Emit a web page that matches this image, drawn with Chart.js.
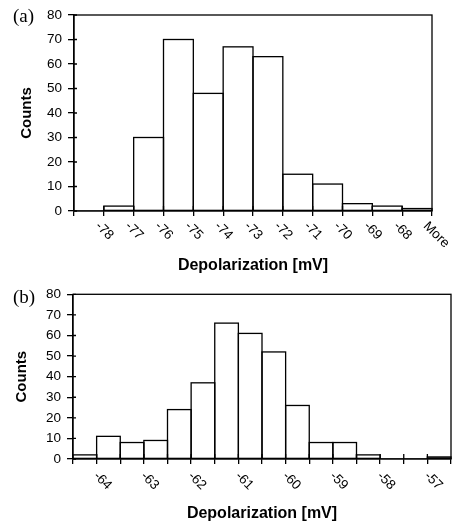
<!DOCTYPE html>
<html>
<head>
<meta charset="utf-8">
<script src="https://cdn.jsdelivr.net/npm/chart.js@4.4.1/dist/chart.umd.min.js"></script>
<style>
  body { margin: 0; background: #fff; }
  .panel { position: absolute; left: 0; width: 457px; }
  #panelA { top: 0; height: 278px; }
  #panelB { top: 278px; height: 249px; }
</style>
</head>
<body>
<div class="panel" id="panelA"><canvas id="chartA"></canvas></div>
<div class="panel" id="panelB"><canvas id="chartB"></canvas></div>
<script>
// Panel (a): bin upper edges and counts
const binsA = ['-78', '-77', '-76', '-75', '-74', '-73', '-72', '-71', '-70', '-69', '-68', 'More'];
const countsA = [0, 2, 30, 70, 48, 67, 63, 15, 11, 3, 2, 1];

// Panel (b): 0.5 mV bins, only the whole-mV edges carry a label
const binsB = ['-64', '-63.5', '-63', '-62.5', '-62', '-61.5', '-61', '-60.5',
               '-60', '-59.5', '-59', '-58.5', '-58', '-57.5', '-57', '-56.5'];
const countsB = [2, 11, 8, 9, 24, 37, 66, 61, 52, 26, 8, 8, 2, 0, 0, 1];
const shownB = ['-64', '-63', '-62', '-61', '-60', '-59', '-58', '-57'];

const yTicks = [0, 10, 20, 30, 40, 50, 60, 70, 80];

const SANS = '"Liberation Sans", Arial, sans-serif';
const LINE = 1.3;

document.addEventListener('DOMContentLoaded', () => {
    makeHistogram('chartA', binsA, countsA, {
        tag: '(a)', tagY: 22, labelDx: -6.5, labelDy: 13, shown: binsA,
        padRight: 25, padTop: 15, yWidth: 74, xHeight: 67, countsPad: 17.5, titlePad: 3
    });
    makeHistogram('chartB', binsB, countsB, {
        tag: '(b)', tagY: 25, labelDx: -1, labelDy: 15, shown: shownB,
        padRight: 6, padTop: 16.3, yWidth: 73, xHeight: 68, countsPad: 12.7, titlePad: 4
    });
});

// outlines, frame, cross ticks, rotated bin labels and panel tag
const framePlugin = {
    id: 'frame',
    afterDatasetsDraw(chart, args, opts) {
        const { ctx, chartArea: a, scales: { x, y } } = chart;
        ctx.save();
        ctx.strokeStyle = '#000';
        ctx.fillStyle = '#000';
        ctx.lineWidth = LINE;

        // bar outlines (stroked on the edges so shared sides stay thin)
        chart.getDatasetMeta(0).data.forEach(bar => {
            const p = bar.getProps(['x', 'y', 'base', 'width'], true);
            if (p.base - p.y < 0.5) return;
            ctx.strokeRect(p.x - p.width / 2, p.y, p.width, p.base - p.y);
        });

        ctx.strokeRect(a.left, a.top, a.right - a.left, a.bottom - a.top);

        // inner halves of the tick marks
        ctx.beginPath();
        y.ticks.forEach(t => {
            const py = y.getPixelForValue(t.value);
            ctx.moveTo(a.left, py);
            ctx.lineTo(a.left + 3, py);
        });
        const half = (x.getPixelForValue(1) - x.getPixelForValue(0)) / 2;
        for (let i = 1; i < chart.data.labels.length; i++) {
            const px = x.getPixelForValue(i) - half;
            ctx.moveTo(px, a.bottom);
            ctx.lineTo(px, a.bottom - 5);
        }
        ctx.stroke();

        // bin labels sit on the upper edge of each bin
        ctx.font = '13.5px ' + SANS;
        ctx.textAlign = 'left';
        ctx.textBaseline = 'middle';
        chart.data.labels.forEach((label, i) => {
            if (!opts.shown.includes(label)) return;
            const px = x.getPixelForValue(i) + half + opts.labelDx;
            ctx.save();
            ctx.translate(px, a.bottom + opts.labelDy);
            ctx.rotate(Math.PI / 4);
            ctx.fillText(label, 0, 0);
            ctx.restore();
        });

        ctx.font = '19px "Liberation Serif", "Times New Roman", serif';
        ctx.textBaseline = 'alphabetic';
        ctx.fillText(opts.tag, 13, opts.tagY);
        ctx.restore();
    }
};

function makeHistogram(id, bins, counts, o) {
    const ctx = document.getElementById(id).getContext('2d');
    return new Chart(ctx, {
        type: 'bar',
        data: {
            labels: bins,
            datasets: [{
                data: counts,
                backgroundColor: '#fff',
                borderWidth: 0,
                barPercentage: 1,
                categoryPercentage: 1
            }]
        },
        options: {
            responsive: true,
            maintainAspectRatio: false,
            animation: false,
            layout: { padding: { left: 0, right: o.padRight, top: o.padTop, bottom: 0 } },
            plugins: {
                legend: { display: false },
                tooltip: { enabled: false },
                frame: o
            },
            scales: {
                x: {
                    offset: true,
                    grid: { offset: true, drawOnChartArea: false, tickLength: 5, color: '#000', lineWidth: LINE },
                    border: { color: '#000', width: LINE },
                    ticks: { display: false },
                    title: {
                        display: true,
                        text: 'Depolarization [mV]',
                        color: '#000',
                        font: { family: SANS, size: 16, weight: 'bold' },
                        padding: { top: 0, bottom: o.titlePad }
                    },
                    afterFit: s => { s.height = o.xHeight; }
                },
                y: {
                    min: yTicks[0],
                    max: yTicks[yTicks.length - 1],
                    ticks: {
                        stepSize: yTicks[1] - yTicks[0],
                        color: '#000',
                        font: { family: SANS, size: 13.5 },
                        padding: 6
                    },
                    grid: { drawOnChartArea: false, tickLength: 6, color: '#000', lineWidth: LINE },
                    border: { color: '#000', width: LINE },
                    title: {
                        display: true,
                        text: 'Counts',
                        color: '#000',
                        font: { family: SANS, size: 15, weight: 'bold' },
                        padding: { top: o.countsPad, bottom: 0 }
                    },
                    afterFit: s => { s.width = o.yWidth; }
                }
            }
        },
        plugins: [framePlugin]
    });
}
</script>
</body>
</html>
